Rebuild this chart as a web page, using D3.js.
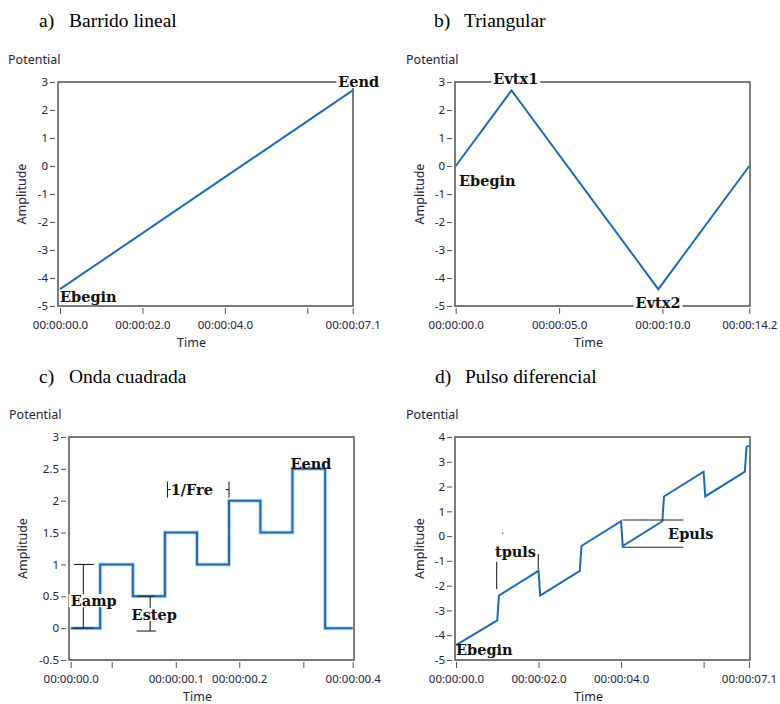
<!DOCTYPE html>
<html>
<head>
<meta charset="utf-8">
<script src="https://cdn.jsdelivr.net/npm/d3@7"></script>
<style>
  body { margin: 0; background: #fff; }
  .tick text { font-family: "Noto Sans", sans-serif; font-size: 11.5px; fill: #23233a; }
  .tick line { stroke: #555; }
</style>
</head>
<body>
<div id="chart"></div>
<script>
// ---- data ----
// a) linear sweep
const sweepTime = [0, 7.1];
const sweepValue = [-4.4, 2.7];
// b) triangular
const triTime = [0, 2.7, 9.8, 14.2];
const triValue = [0, 2.7, -4.4, 0];
// c) square wave (step after)
const squareTime = [0, 0.046, 0.097, 0.147, 0.197, 0.247, 0.296, 0.346, 0.397, 0.44];
const squareValue = [0, 1, 0.5, 1.5, 1, 2, 1.5, 2.5, 0, 0];
// d) differential pulse
const pulseTime = [0, 1.0, 1.04, 2.0, 2.04, 3.0, 3.04, 4.0, 4.04, 5.0, 5.04, 6.0, 6.04, 7.0, 7.04, 7.1];
const pulseValue = [-4.4, -3.4, -2.4, -1.4, -2.4, -1.4, -0.4, 0.6, -0.4, 0.6, 1.6, 2.6, 1.6, 2.6, 3.6, 3.65];

// ticks
const sevenTicks = [0, 2, 4, 6, 7.1];
const sevenLabels = ["00:00:00.0", "00:00:02.0", "00:00:04.0", "", "00:00:07.1"];
const triTicks = [0, 5, 10, 14.2];
const triLabels = ["00:00:00.0", "00:00:05.0", "00:00:10.0", "00:00:14.2"];
const squareTicks = [0, 0.064, 0.164, 0.263, 0.363, 0.44];
const squareLabels = ["00:00:00.0", "", "00:00:00.1", "00:00:00.2", "", "00:00:00.4"];
const sweepYTicks = [-5, -4, -3, -2, -1, 0, 1, 2, 3];
const squareYTicks = [-0.5, 0, 0.5, 1, 1.5, 2, 2.5, 3];
const pulseYTicks = [-5, -4, -3, -2, -1, 0, 1, 2, 3, 4];

// annotations (text anchor in data units)
const sweepNotes = [
  { text: "Eend", t: 6.75, v: 2.82, bg: true },
  { text: "Ebegin", t: 0, v: -4.86 }
];
const triNotes = [
  { text: "Evtx1", t: 1.82, v: 2.93, bg: true },
  { text: "Ebegin", t: 0.16, v: -0.7 },
  { text: "Evtx2", t: 8.7, v: -5.08, bg: true }
];
const squareNotes = [
  { text: "Eend", t: 0.343, v: 2.505 },
  { text: "1/Fre", t: 0.156, v: 2.09 },
  { text: "Eamp", t: 0.0, v: 0.345, bg: true },
  { text: "Estep", t: 0.095, v: 0.13, bg: true }
];
const pulseNotes = [
  { text: "tpuls", t: 0.945, v: -0.83 },
  { text: "Epuls", t: 5.14, v: -0.12 },
  { text: "Ebegin", t: 0, v: -4.8 }
];
// bracket marks [t1, v1, t2, v2]
const squareMarks = [
  [0.0197, 1, 0.0197, 0], [0.005, 1, 0.036, 1], [0.003, 0, 0.036, 0],
  [0.124, 0.5, 0.124, -0.045], [0.104, 0.5, 0.132, 0.5], [0.103, -0.045, 0.133, -0.045],
  [0.151, 2.3, 0.151, 2.05], [0.151, 2.175, 0.156, 2.175],
  [0.247, 2.3, 0.247, 2.05], [0.242, 2.175, 0.247, 2.175]
];
const pulseMarks = [
  [0.986, -1.03, 0.986, -2.14], [1.994, -0.72, 1.994, -1.34],
  [4.04, 0.65, 5.51, 0.65], [4.04, -0.45, 5.51, -0.45]
];

const width = 780, height = 704;
const svg = d3.select("#chart").append("svg")
  .attr("width", width).attr("height", height);

const panels = [
  { tag: "a)", title: "Barrido lineal", time: sweepTime, value: sweepValue, xDomain: [0, 7.1], yDomain: [-5, 3],
    ticks: sevenTicks, labels: sevenLabels, yTicks: sweepYTicks, notes: sweepNotes, marks: [],
    left: 58, right: 353, top: 82, bottom: 306, xr: [60, 352.7], tx: 39, ty: 27.3, lx: 8 },
  { tag: "b)", title: "Triangular", time: triTime, value: triValue, xDomain: [0, 14.2], yDomain: [-5, 3],
    ticks: triTicks, labels: triLabels, yTicks: sweepYTicks, notes: triNotes, marks: [],
    left: 455, right: 750, top: 82, bottom: 306, xr: [455.7, 749.3], tx: 434, ty: 27.3, lx: 406 },
  { tag: "c)", title: "Onda cuadrada", time: squareTime, value: squareValue, xDomain: [0, 0.44], yDomain: [-0.5, 3],
    ticks: squareTicks, labels: squareLabels, yTicks: squareYTicks, notes: squareNotes, marks: squareMarks,
    left: 69, right: 354, top: 437, bottom: 660, xr: [70.7, 352.7], tx: 39, ty: 382.5, lx: 9, step: true },
  { tag: "d)", title: "Pulso diferencial", time: pulseTime, value: pulseValue, xDomain: [0, 7.1], yDomain: [-5, 4],
    ticks: sevenTicks, labels: sevenLabels, yTicks: pulseYTicks, notes: pulseNotes, marks: pulseMarks,
    left: 455, right: 750, top: 437, bottom: 660, xr: [456, 749], tx: 435, ty: 382.5, lx: 406, dot: [1.13, 0.12] }
];

panels.forEach(function(p) {
  const g = svg.append("g");
  const x = d3.scaleLinear().domain(p.xDomain).range(p.xr);
  const y = d3.scaleLinear().domain(p.yDomain).range([p.bottom, p.top]);

  // title
  g.append("text").attr("x", p.tx).attr("y", p.ty)
    .style("font-family", "'Liberation Serif', serif").style("font-size", "19.5px")
    .text(p.tag);
  g.append("text").attr("x", p.tx + 30).attr("y", p.ty)
    .style("font-family", "'Liberation Serif', serif").style("font-size", "19.5px")
    .text(p.title);

  // axis captions
  const cap = { "font-family": "'Noto Sans', sans-serif", "font-size": "12.5px", fill: "#23233a" };
  const pot = g.append("text").attr("x", p.lx).attr("y", p.top - 18.5).text("Potential");
  const amp = g.append("text").attr("text-anchor", "middle")
    .attr("transform", `translate(${p.lx + 14},${(p.top + p.bottom) / 2}) rotate(-90)`)
    .attr("dy", "0.35em").text("Amplitude");
  const tim = g.append("text").attr("text-anchor", "middle")
    .attr("x", (p.left + p.right) / 2 - 14).attr("y", p.bottom + 40.5).text("Time");
  [pot, amp, tim].forEach(t => Object.entries(cap).forEach(([k, v]) => t.style(k, v)));

  // axes
  const xAxis = g.append("g").attr("transform", `translate(0,${p.bottom + 2})`)
    .call(d3.axisBottom(x).tickValues(p.ticks).tickFormat((d, i) => p.labels[i])
      .tickSizeInner(6).tickSizeOuter(0).tickPadding(7));
  xAxis.select(".domain").remove();

  const yAxis = g.append("g").attr("transform", `translate(${p.left - 3},0)`)
    .call(d3.axisLeft(y).tickValues(p.yTicks).tickFormat(d => String(d))
      .tickSizeInner(5).tickSizeOuter(0).tickPadding(2));
  yAxis.select(".domain").remove();

  // frame
  g.append("rect").attr("x", p.left).attr("y", p.top)
    .attr("width", p.right - p.left).attr("height", p.bottom - p.top)
    .attr("fill", "none").attr("stroke", "#505050").attr("stroke-width", 1.5);

  // series
  const pts = p.time.map((t, i) => [t, p.value[i]]);
  const line = d3.line().x(d => x(d[0])).y(d => y(d[1]))
    .curve(p.step ? d3.curveStepAfter : d3.curveLinear);
  if (p.step) {
    g.append("path").attr("d", line(pts)).attr("fill", "none")
      .attr("stroke", "#bcd6ef").attr("stroke-width", 4);
  }
  g.append("path").attr("d", line(pts)).attr("fill", "none")
    .attr("stroke", "#1d6cb3").attr("stroke-width", 2);

  // bracket marks
  g.selectAll(".mark").data(p.marks).enter().append("line")
    .attr("x1", d => x(d[0])).attr("y1", d => y(d[1]))
    .attr("x2", d => x(d[2])).attr("y2", d => y(d[3]))
    .attr("stroke", "#222").attr("stroke-width", 1.1);

  if (p.dot) {
    g.append("circle").attr("cx", x(p.dot[0])).attr("cy", y(p.dot[1])).attr("r", 0.7).attr("fill", "#333");
  }

  // annotations
  p.notes.forEach(function(n) {
    const t = g.append("text").attr("x", x(n.t)).attr("y", y(n.v))
      .style("font-family", "'DejaVu Serif', serif").style("font-weight", "bold")
      .style("font-size", "14.5px").style("fill", "#111").text(n.text);
    if (n.bg) {
      const b = t.node().getBBox();
      g.insert("rect", function() { return t.node(); })
        .attr("x", b.x - 2).attr("y", b.y + 2).attr("width", b.width + 4).attr("height", b.height - 4)
        .attr("fill", "#fff");
    }
  });
});
</script>
</body>
</html>
